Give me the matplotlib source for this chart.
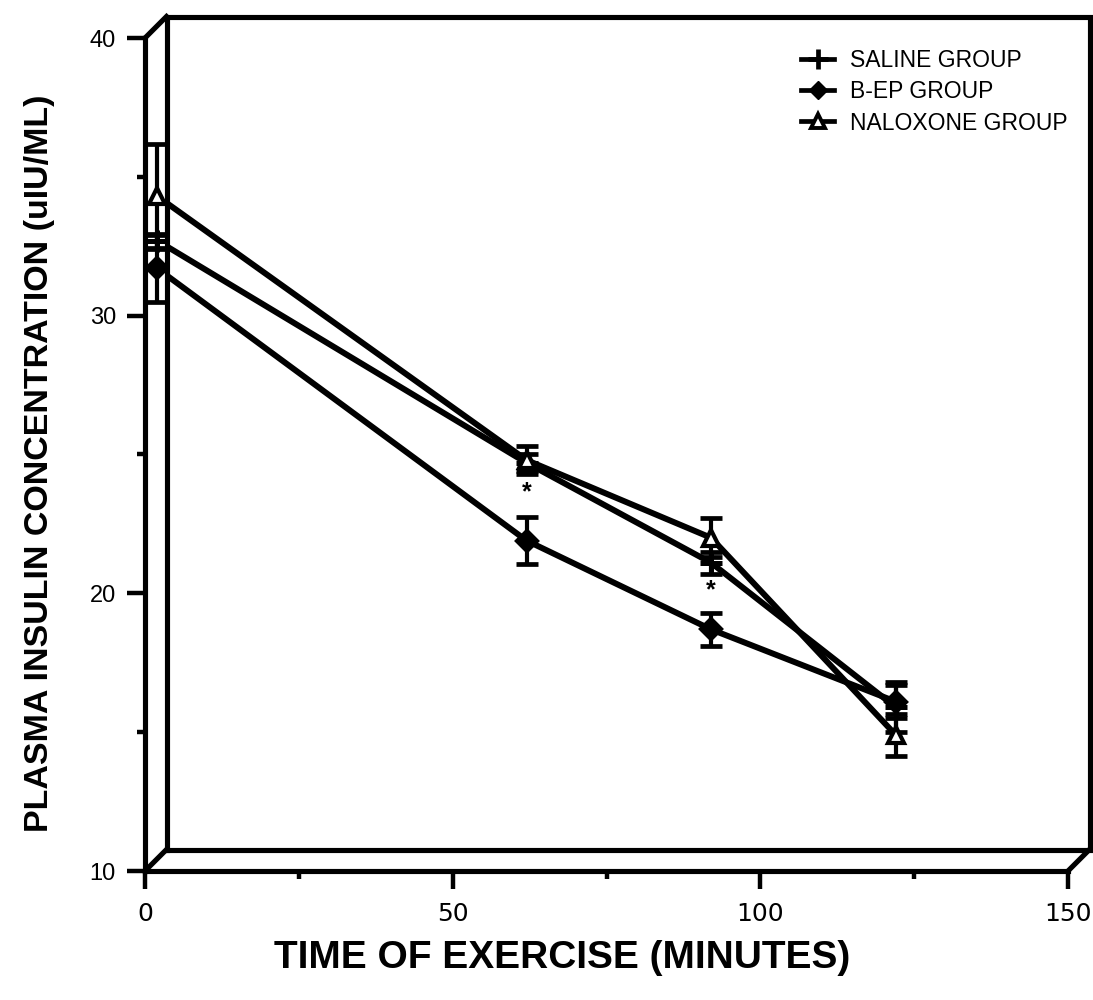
import numpy as np
import matplotlib
matplotlib.use("Agg")
from matplotlib import pyplot as plt
from matplotlib import transforms
from matplotlib.patches import Rectangle
from matplotlib.lines import Line2D

plt.rcParams['font.family'] = ['Liberation Sans', 'DejaVu Sans']

# data
time_min = [2, 62, 92, 122]
saline = [32.7, 24.7, 21.1, 15.9]
saline_err = [0.25, 0.3, 0.4, 0.9]
bep = [31.7, 21.9, 18.7, 16.1]
bep_err = [1.2, 0.85, 0.6, 0.6]
naloxone = [34.3, 24.8, 22.0, 14.9]
naloxone_err = [1.9, 0.5, 0.7, 0.75]
star_x = [62, 92]
star_y = [23.65, 20.1]

fig = plt.figure(figsize=(10.93, 10), dpi=100)
ax = fig.add_axes([145 / 1093, 129 / 1000, 923 / 1093, 833 / 1000])
ax.set_xlim(0, 150)
ax.set_ylim(10, 40)

# pseudo 3d back wall, shifted up/right from the front frame
dx, dy = 0.215, 0.215
shift = transforms.ScaledTranslation(dx, dy, fig.dpi_scale_trans)
lw = 3.7
ax.plot([0, 0, 1, 1, 0], [0, 1, 1, 0, 0], transform=ax.transAxes + shift,
        color='black', lw=lw, clip_on=False, solid_joinstyle='miter')
for cx, cy in [(0, 0), (0, 1), (1, 0)]:
    p0 = ax.transAxes.transform((cx, cy))
    p1 = (ax.transAxes + shift).transform((cx, cy))
    fig.add_artist(Line2D([p0[0], p1[0]], [p0[1], p1[1]], color='black', lw=lw,
                          transform=None))

for s in ['top', 'right']:
    ax.spines[s].set_visible(False)
for s in ['left', 'bottom']:
    ax.spines[s].set_linewidth(lw)

# lines disappear behind the back wall edge
clip = Rectangle((3.6, 0), 200, 60, transform=ax.transData)
for vals, errs, mk, fc, ms in [(saline, saline_err, '+', 'black', 16),
                              (bep, bep_err, 'D', 'black', 10),
                              (naloxone, naloxone_err, '^', 'white', 12)]:
    ln, = ax.plot(time_min, vals, color='black', lw=4.3, zorder=2)
    ln.set_clip_path(clip)
    ax.errorbar(time_min, vals, yerr=errs, fmt='none', ecolor='black',
                elinewidth=3, capsize=8, capthick=3.4, zorder=3)
    ax.plot(time_min, vals, ls='none', marker=mk, ms=ms, mfc=fc, mec='black',
            mew=3 if mk != '+' else 3.6, zorder=4)

for x, y in zip(star_x, star_y):
    ax.text(x, y, '*', ha='center', va='center', fontsize=18, fontweight='bold')

ax.set_xticks([0, 50, 100, 150])
ax.set_xticks([25, 75, 125], minor=True)
ax.set_yticks([10, 20, 30, 40])
ax.set_yticks([15, 25, 35], minor=True)
ax.tick_params(which='major', direction='out', length=13, width=3.2)
ax.tick_params(which='minor', direction='out', length=6, width=3.2)
ax.tick_params(axis='y', labelsize=17, pad=8)
ax.tick_params(axis='x', labelsize=18, pad=9)
for t in ax.get_xticklabels():
    t.set_fontfamily('DejaVu Sans')

ax.set_ylabel('PLASMA INSULIN CONCENTRATION (uIU/ML)', fontsize=24.5,
              fontweight='bold', va='center')
ax.yaxis.set_label_coords(-0.1138, 0.49)
ax.set_xlabel('TIME OF EXERCISE (MINUTES)', fontsize=28, fontweight='bold',
              va='center')
ax.xaxis.set_label_coords(0.452, -0.1044)

handles = [Line2D([], [], color='black', lw=3.4, marker='+', ms=14, mew=3.4),
           Line2D([], [], color='black', lw=3.4, marker='D', ms=9),
           Line2D([], [], color='black', lw=3.4, marker='^', ms=10, mfc='white', mew=2.8)]
ax.legend(handles, ['SALINE GROUP', 'B-EP GROUP', 'NALOXONE GROUP'],
          loc='upper left', bbox_to_anchor=(790 / 1093, 1 - 38 / 1000),
          bbox_transform=fig.transFigure, frameon=False, fontsize=16.5,
          handlelength=1.4, handletextpad=0.7, labelspacing=0.35, borderpad=0)

fig.savefig('out.png', dpi=100)
